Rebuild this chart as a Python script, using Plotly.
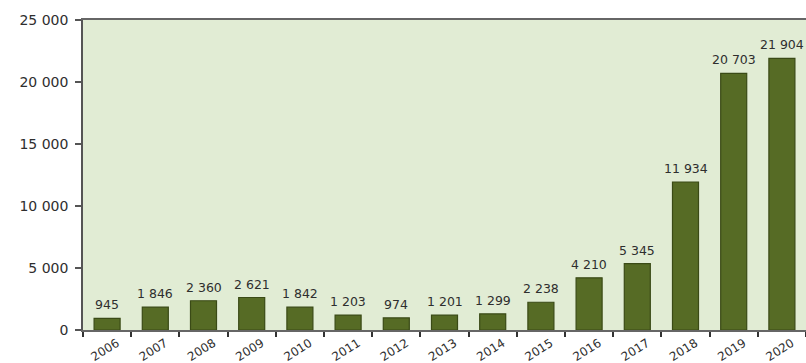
import plotly.graph_objects as go

years = ["2006", "2007", "2008", "2009", "2010", "2011", "2012", "2013",
         "2014", "2015", "2016", "2017", "2018", "2019", "2020"]
values = [945, 1846, 2360, 2621, 1842, 1203, 974, 1201, 1299, 2238,
          4210, 5345, 11934, 20703, 21904]
labels = ["945", "1 846", "2 360", "2 621", "1 842", "1 203", "974", "1 201",
          "1 299", "2 238", "4 210", "5 345", "11 934", "20 703", "21 904"]
ytick_vals = [0, 5000, 10000, 15000, 20000, 25000]
ytick_text = ["0", "5 000", "10 000", "15 000", "20 000", "25 000"]

FONT = "DejaVu Sans"
TXT = "#2e2e2e"

fig = go.Figure(go.Bar(
    x=years, y=values,
    marker=dict(color="#566b25", line=dict(color="#3a4a16", width=1.2)),
    width=0.54,
))

for i, (v, lab) in enumerate(zip(values, labels)):
    fig.add_annotation(x=i, y=v, xref="x", yref="y", text=lab, showarrow=False,
                       yanchor="bottom", xanchor="center", yshift=4,
                       font=dict(family=FONT, size=12.5, color=TXT))

fig.update_layout(
    width=806, height=363,
    margin=dict(l=83, r=0, t=20, b=33),
    paper_bgcolor="white", plot_bgcolor="#e1ecd4",
    showlegend=False,
    font=dict(family=FONT, size=12, color=TXT),
)
fig.update_xaxes(
    type="category",
    range=[-0.5, 14.5], tickangle=-32, tickson="boundaries",
    ticks="outside", ticklen=5, tickcolor="#333333", tickwidth=2,
    showline=True, linecolor="#666666", linewidth=1.5, mirror=True,
    tickfont=dict(family=FONT, size=12, color=TXT),
    ticklabelshift=10,
    automargin=False, showgrid=False,
)
fig.update_yaxes(
    range=[0, 25000], tickvals=ytick_vals, ticktext=ytick_text,
    ticks="outside", ticklen=6, tickcolor="#555555", tickwidth=1.5,
    showline=True, linecolor="#555555", linewidth=1.5,
    showgrid=False, zeroline=False, automargin=False,
    tickfont=dict(family=FONT, size=14, color=TXT),
    ticklabelstandoff=4,
)

fig.write_html("out.html")
